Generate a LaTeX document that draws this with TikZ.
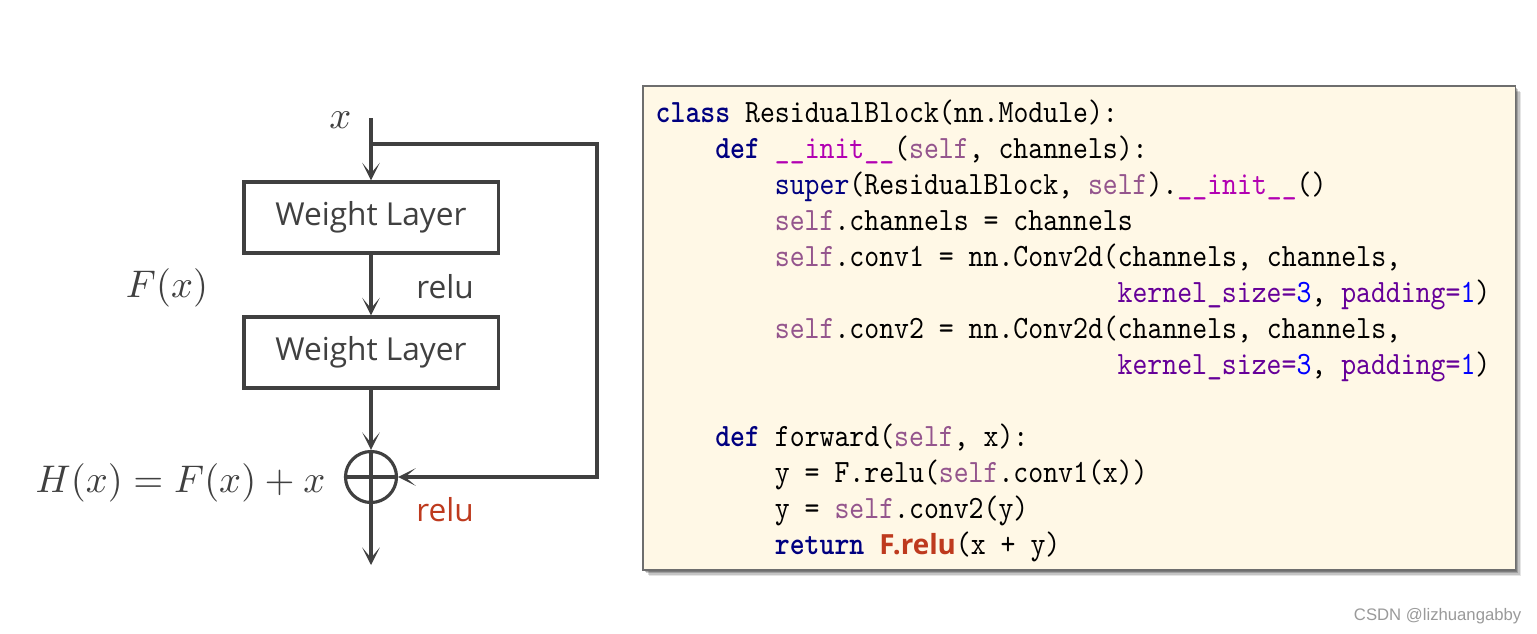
\documentclass[tikz,border=0pt]{standalone}
\usepackage{fontspec}
\usetikzlibrary{arrows.meta}

% fonts: humanist sans for labels, condensed Latin Modern Mono for the listing
\newfontfamily\labelsans{Open Sans}
\newfontfamily\marksans{Liberation Sans}
\newfontfamily\codefont{lmmono10-regular.otf}[FakeStretch=0.873, BoldFont=lmmonolt10-bold.otf, BoldFeatures={FakeStretch=0.873}]

\definecolor{ink}{HTML}{404040}
\definecolor{relured}{HTML}{BE3A1E}
\definecolor{codebg}{HTML}{FFF8E6}
\definecolor{codeframe}{HTML}{6E6E6E}
\definecolor{pynavy}{HTML}{000080}
\definecolor{pyselfc}{HTML}{94558D}
\definecolor{pymagic}{HTML}{B200B2}
\definecolor{pyargc}{HTML}{660099}
\definecolor{pynumc}{HTML}{0000FF}
\definecolor{markgray}{HTML}{9A9A9A}

% syntax colouring helpers for the listing
\newcommand\pykw[1]{{\bfseries\color{pynavy}#1}}
\newcommand\pyself{{\color{pyselfc}self}}
\newcommand\pyinit{{\color{pymagic}\_\_init\_\_}}
\newcommand\pyargs{{\color{pyargc}kernel\_size=}{\color{pynumc}3}, {\color{pyargc}padding=}{\color{pynumc}1})}

\begin{document}
\begin{tikzpicture}[x=0.01cm, y=-0.01cm,
  wire/.style={draw=ink, line width=0.9pt},
  flow/.style={wire, -{Stealth[length=5pt, width=5pt, inset=3pt]}},
  layerbox/.style={draw=ink, line width=0.9pt, rectangle, minimum width=2.54cm,
    minimum height=0.71cm, inner sep=0pt, text=ink,
    font=\labelsans\fontsize{9pt}{10pt}\selectfont},
  sumnode/.style={draw=ink, line width=0.9pt, circle, minimum size=0.51cm, inner sep=0pt},
  mathlbl/.style={text=ink, inner sep=0pt, font=\fontsize{11pt}{13pt}\selectfont},
  relulbl/.style={inner sep=0pt, font=\labelsans\fontsize{9pt}{10pt}\selectfont},
  codetxt/.style={inner sep=0pt, anchor=base west, text=black,
    font=\codefont\fontsize{9.25pt}{11pt}\selectfont}
]
\useasboundingbox (0,0) rectangle (1537,633);
\fill[white] (0,0) rectangle (1537,633);

% ---------------- residual block ----------------
\coordinate (xin) at (371,118);
\coordinate (split) at (371,144);
\coordinate (skipTR) at (597,144);
\coordinate (skipBR) at (597,477);
\coordinate (out) at (371,565);

\node[mathlbl, anchor=base east] (xlbl) at (352,128) {$x$};
\node[layerbox] (box1) at (371,217.5) {Weight Layer};
\node[layerbox] (box2) at (371,352.5) {Weight Layer};
\node[sumnode] (sum) at (371,477) {};
\draw[wire] (sum.north) -- (sum.south) (sum.west) -- (sum.east);

\node[relulbl, text=ink] (relu1) at (445,287) {relu};
\node[relulbl, text=relured] (relu2) at (445,510) {relu};
\node[mathlbl, anchor=base] (Fx) at (167,297) {$F(x)$};
\node[mathlbl, anchor=base east] (Hx) at (326,492) {$H(x) = F(x) + x$};

\draw[flow] (xin) -- (box1.north);
\draw[flow] (box1.south) -- (box2.north);
\draw[flow] (box2.south) -- (sum.north);
\draw[flow] (sum.south) -- (out);
\draw[flow] (split) -- (skipTR) -- (skipBR) -- (sum.east);

% ---------------- code listing ----------------
\foreach \d/\o in {7/0.10, 5.5/0.14, 4/0.18, 2.5/0.22}
  \fill[black, opacity=\o] (642+\d,85+\d) rectangle (1514+\d,569+\d);
\node[draw=codeframe, fill=codebg, line width=0.45pt, rectangle, inner sep=0pt,
  minimum width=8.72cm, minimum height=4.84cm, anchor=north west] (code) at (642,85) {};

\node[codetxt] (l0)  at (655+0*14.9, 122+0*36)  {\pykw{class} ResidualBlock(nn.Module):};
\node[codetxt] (l1)  at (655+4*14.9, 122+1*36)  {\pykw{def} \pyinit(\pyself, channels):};
\node[codetxt] (l2)  at (655+8*14.9, 122+2*36)  {{\color{pynavy}super}(ResidualBlock, \pyself).\pyinit()};
\node[codetxt] (l3)  at (655+8*14.9, 122+3*36)  {\pyself.channels = channels};
\node[codetxt] (l4)  at (655+8*14.9, 122+4*36)  {\pyself.conv1 = nn.Conv2d(channels, channels,};
\node[codetxt] (l5)  at (655+31*14.9, 122+5*36) {\pyargs};
\node[codetxt] (l6)  at (655+8*14.9, 122+6*36)  {\pyself.conv2 = nn.Conv2d(channels, channels,};
\node[codetxt] (l7)  at (655+31*14.9, 122+7*36) {\pyargs};
\node[codetxt] (l9)  at (655+4*14.9, 122+9*36)  {\pykw{def} forward(\pyself, x):};
\node[codetxt] (l10) at (655+8*14.9, 122+10*36) {y = F.relu(\pyself.conv1(x))};
\node[codetxt] (l11) at (655+8*14.9, 122+11*36) {y = \pyself.conv2(y)};
\node[codetxt] (l12) at (655+8*14.9, 122+12*36) {\pykw{return} {\labelsans\bfseries\fontsize{7.9pt}{10pt}\selectfont\color{relured}F.relu}(x + y)};

% watermark
\node[inner sep=0pt, anchor=base east, text=markgray, font=\marksans\fontsize{4.75pt}{6pt}\selectfont]
  (mark) at (1522,620) {CSDN @lizhuangabby};
\end{tikzpicture}
\end{document}
